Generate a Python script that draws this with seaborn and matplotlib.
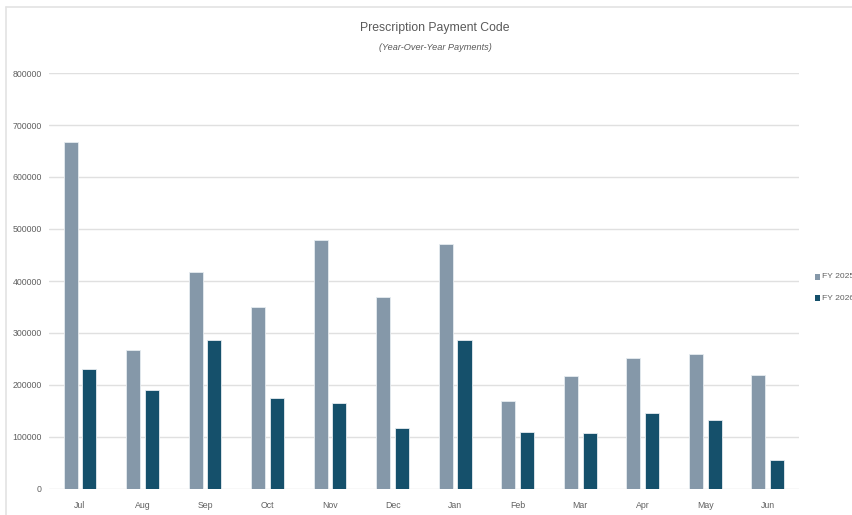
import matplotlib
matplotlib.use("Agg")
import matplotlib.pyplot as plt
from matplotlib.patches import Rectangle
import seaborn as sns
import pandas as pd

months = ["Jul", "Aug", "Sep", "Oct", "Nov", "Dec", "Jan", "Feb", "Mar", "Apr", "May", "Jun"]
fy2025 = [667000, 267000, 417000, 350000, 479000, 369000, 471000, 169000, 217000, 252000, 260000, 219000]
fy2026 = [231000, 190000, 287000, 175000, 165000, 117000, 287000, 110000, 108000, 146000, 133000, 56000]
series_names = ["FY 2025", "FY 2026"]
colors = ["#8598A9", "#15506B"]
y_ticks = [0, 100000, 200000, 300000, 400000, 500000, 600000, 700000, 800000]

df = pd.DataFrame({
    "Month": months * 2,
    "Payments": fy2025 + fy2026,
    "Year": [series_names[0]] * len(months) + [series_names[1]] * len(months),
})

sns.set_theme(style="white")
plt.rcParams["font.family"] = ["Liberation Sans", "DejaVu Sans"]

fig = plt.figure(figsize=(8.53, 5.15), dpi=100)
ax = fig.add_axes([48.7 / 853, 1 - 489 / 515, (799 - 48.7) / 853, (489 - 73) / 515])

sns.barplot(data=df, x="Month", y="Payments", hue="Year", order=months,
            hue_order=series_names, palette=colors, saturation=1, width=0.6, gap=0.25,
            edgecolor="#E6ECF0", linewidth=0.6, ax=ax, legend=False, zorder=3)

ax.set_ylim(0, 800000)
ax.set_xlim(-0.5, len(months) - 0.5)
ax.set_yticks(y_ticks)
ax.set_yticklabels([str(t) for t in y_ticks])
ax.yaxis.grid(True, color="#E0E0E0", linewidth=1.0, zorder=0)
ax.xaxis.grid(False)
for s in ax.spines.values():
    s.set_visible(False)
ax.tick_params(axis="both", length=0, labelsize=6.3, labelcolor="#606060")
ax.tick_params(axis="y", pad=5)
ax.tick_params(axis="x", pad=9)
ax.set_xlabel("")
ax.set_ylabel("")

fig.text(435 / 853, 1 - 28 / 515, "Prescription Payment Code", ha="center", va="center",
         fontsize=8.8, color="#595959")
fig.text(435 / 853, 1 - 47 / 515, "(Year-Over-Year Payments)", ha="center", va="center",
         fontsize=6.6, color="#595959", style="italic")

# legend entries at the right edge
for i, (name, c) in enumerate(zip(series_names, colors)):
    y = 1 - (277 + 21 * i) / 515
    fig.patches.append(Rectangle((815 / 853, y - 3 / 515), 5.5 / 853, 6 / 515,
                                 transform=fig.transFigure, facecolor=c,
                                 edgecolor="none", figure=fig))
    fig.text(822 / 853, y, name, ha="left", va="center", fontsize=6.1, color="#606060")

# thin frame along the top and left
fig.add_artist(plt.Line2D([6 / 853, 1], [1 - 7 / 515, 1 - 7 / 515], transform=fig.transFigure,
                          color="#E3E3E3", linewidth=1.2))
fig.add_artist(plt.Line2D([6 / 853, 6 / 853], [0, 1 - 7 / 515], transform=fig.transFigure,
                          color="#E3E3E3", linewidth=1.2))

fig.savefig("out.png", dpi=100, facecolor="white")
